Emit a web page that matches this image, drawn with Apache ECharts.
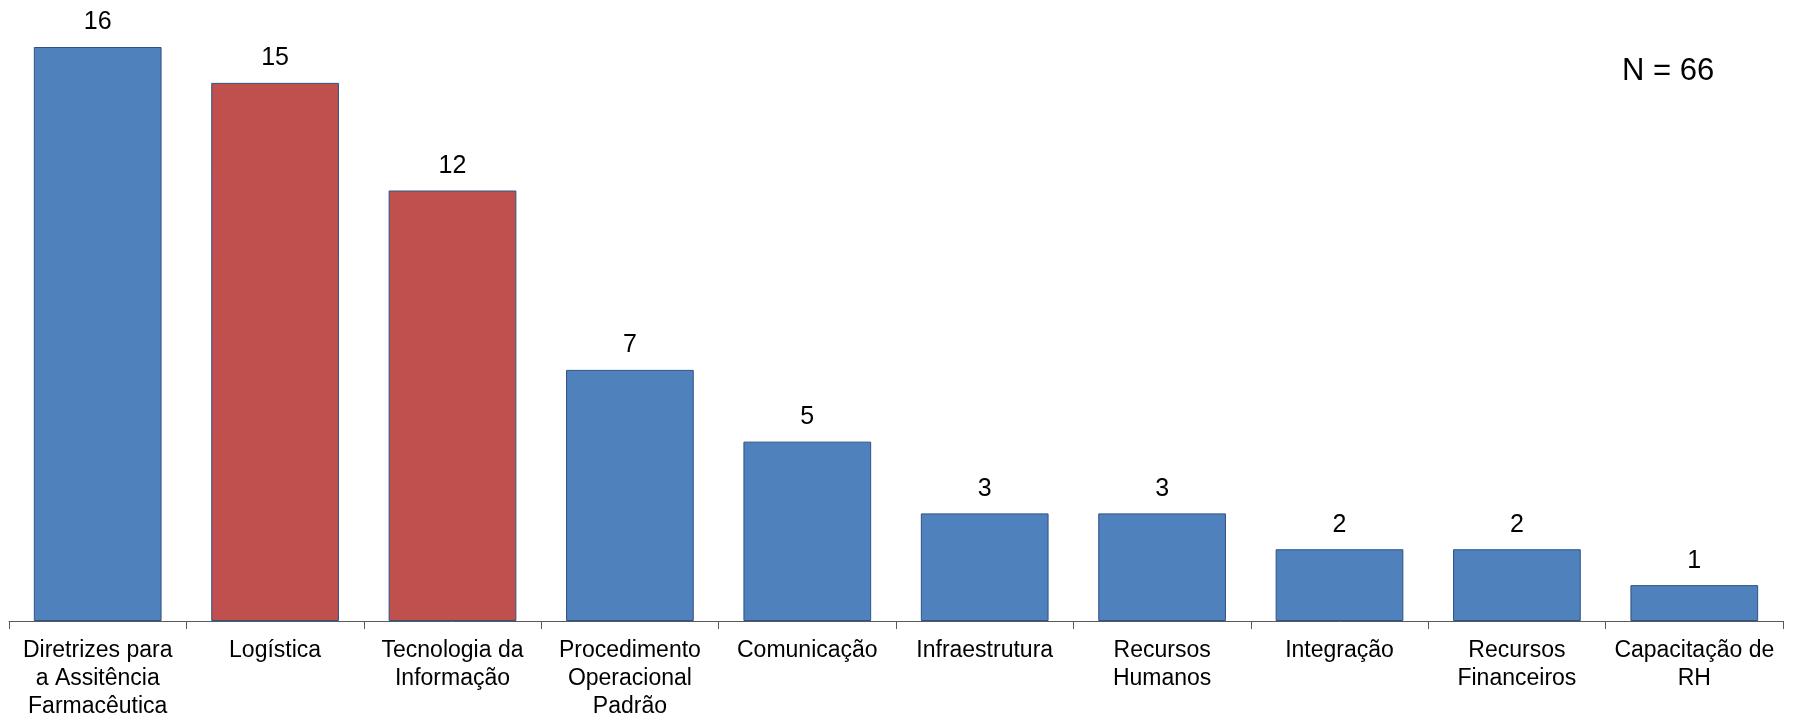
<!DOCTYPE html>
<html>
<head>
<meta charset="utf-8">
<script src="https://cdn.jsdelivr.net/npm/echarts@6/dist/echarts.min.js"></script>
<style>html,body{margin:0;padding:0;background:#fff}#c{width:1800px;height:721px}</style>
</head>
<body>
<div id="c"></div>
<script>
const categories = ['Diretrizes para\na Assitência\nFarmacêutica','Logística','Tecnologia da\nInformação','Procedimento\nOperacional\nPadrão','Comunicação','Infraestrutura','Recursos\nHumanos','Integração','Recursos\nFinanceiros','Capacitação de\nRH'];
const values = [16, 15, 12, 7, 5, 3, 3, 2, 2, 1];
const highlighted = [false, true, true, false, false, false, false, false, false, false];
const totalLabel = 'N = 66';

const chart = echarts.init(document.getElementById('c'));
chart.setOption({
  animation: false,
  backgroundColor: '#ffffff',
  grid: { left: 9, right: 17, top: 47, bottom: 100 },
  xAxis: {
    type: 'category',
    data: categories,
    axisLine: { lineStyle: { color: '#595959', width: 1 } },
    axisTick: { show: true, length: 8, lineStyle: { color: '#595959' } },
    axisLabel: { interval: 0, color: '#000', fontFamily: 'Liberation Sans, Arial, sans-serif', fontSize: 23, lineHeight: 28, margin: 16 }
  },
  yAxis: { type: 'value', min: 0, max: 16, show: false, splitLine: { show: false } },
  series: [{
    type: 'bar',
    barCategoryGap: '28%',
    data: values.map((v, i) => ({
      value: v,
      itemStyle: { color: highlighted[i] ? '#C0504D' : '#4F81BD' }
    })),
    itemStyle: { borderColor: '#2E5283', borderWidth: 1 },
    label: { show: true, position: 'top', distance: 12, color: '#000', fontFamily: 'Liberation Sans, Arial, sans-serif', fontSize: 25 }
  }],
  graphic: [{
    type: 'text', left: 1622, top: 56,
    style: { text: totalLabel, fill: '#000', font: '31px "Liberation Sans", Arial, sans-serif' }
  }]
});
</script>
</body>
</html>
